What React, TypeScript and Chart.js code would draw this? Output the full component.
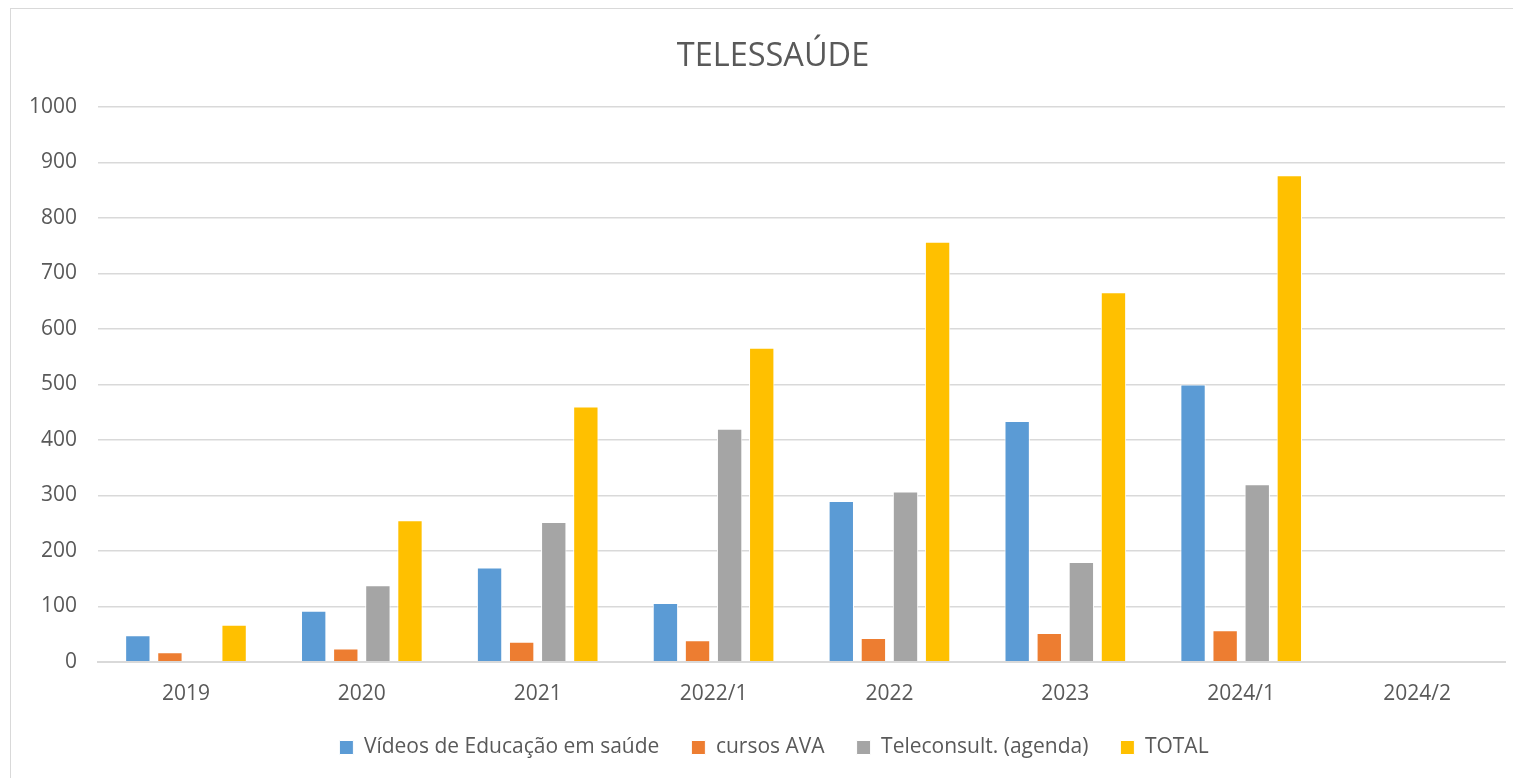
import React, { useEffect, useRef } from "react";
import { Chart, registerables } from "chart.js";

Chart.register(...registerables);

const categories = ["2019", "2020", "2021", "2022/1", "2022", "2023", "2024/1", "2024/2"];
const videos = [48, 92, 170, 106, 290, 434, 500, null];
const cursos = [17, 24, 36, 39, 43, 52, 57, null];
const teleconsult = [0, 138, 252, 420, 307, 180, 320, null];
const total = [67, 255, 460, 566, 757, 666, 877, null];

const seriesNames = ["Vídeos de Educação em saúde", "cursos AVA", "Teleconsult. (agenda)", "TOTAL"];
const seriesColors = ["#5B9BD5", "#ED7D31", "#A5A5A5", "#FFC000"];

const FONT = "'Open Sans', 'Noto Sans', sans-serif";
const TEXT = "#595959";

const shiftBoxes = {
  id: "shiftBoxes",
  afterLayout(chart: any) {
    const l = chart.legend;
    if (l) {
      l.left += 16;
      l.right += 16;
    }
    const t = chart.titleBlock;
    if (t) {
      t.left += 15;
      t.right += 15;
    }
  },
};

export default function App() {
  const ref = useRef<HTMLCanvasElement | null>(null);
  useEffect(() => {
    document.documentElement.style.overflow = "hidden";
    document.body.style.overflow = "hidden";
    if (!ref.current) return;
    const values = [videos, cursos, teleconsult, total];
    const chart = new Chart(ref.current, {
      type: "bar",
      data: {
        labels: categories,
        datasets: values.map((v, i) => ({
          label: seriesNames[i],
          data: v,
          backgroundColor: seriesColors[i],
          borderColor: "#FFFFFF",
          borderWidth: 1,
          categoryPercentage: 0.73,
          barPercentage: 0.79,
        })),
      },
      plugins: [shiftBoxes],
      options: {
        animation: false,
        responsive: false,
        maintainAspectRatio: false,
        layout: { padding: { left: 0, right: 16, top: 0, bottom: 12 } },
        plugins: {
          title: {
            display: true,
            text: "TELESSAÚDE",
            color: TEXT,
            font: { family: FONT, size: 32.5, weight: "normal" },
            padding: { top: 28, bottom: 31 },
          },
          legend: {
            position: "bottom",
            labels: {
              color: TEXT,
              font: { family: FONT, size: 21 },
              boxWidth: 14,
              boxHeight: 14,
              padding: 32,
            },
          },
          tooltip: { enabled: false },
        },
        scales: {
          x: {
            grid: { display: false, drawTicks: false },
            border: { display: true, color: "#D9D9D9", width: 2 },
            ticks: { color: TEXT, font: { family: FONT, size: 21 }, padding: 20 },
            afterFit: (scale: any) => {
              scale.height -= 22;
            },
          },
          y: {
            min: 0,
            max: 1000,
            grid: { color: "#D9D9D9", lineWidth: 1.5, drawTicks: false },
            border: { display: false },
            ticks: {
              stepSize: 100,
              color: TEXT,
              font: { family: FONT, size: 21 },
              padding: 21,
              callback: (v: any) => String(v),
            },
            afterFit: (scale: any) => {
              scale.width -= 3;
            },
          },
        },
      },
    });
    return () => chart.destroy();
  }, []);
  return (
    <div
      style={{
        position: "fixed",
        left: 10,
        top: 8,
        width: 1530,
        height: 790,
        border: "1px solid #D9D9D9",
        boxSizing: "border-box",
        background: "#fff",
      }}
    >
      <canvas ref={ref} width={1510} height={771} style={{ display: "block" }} />
    </div>
  );
}
